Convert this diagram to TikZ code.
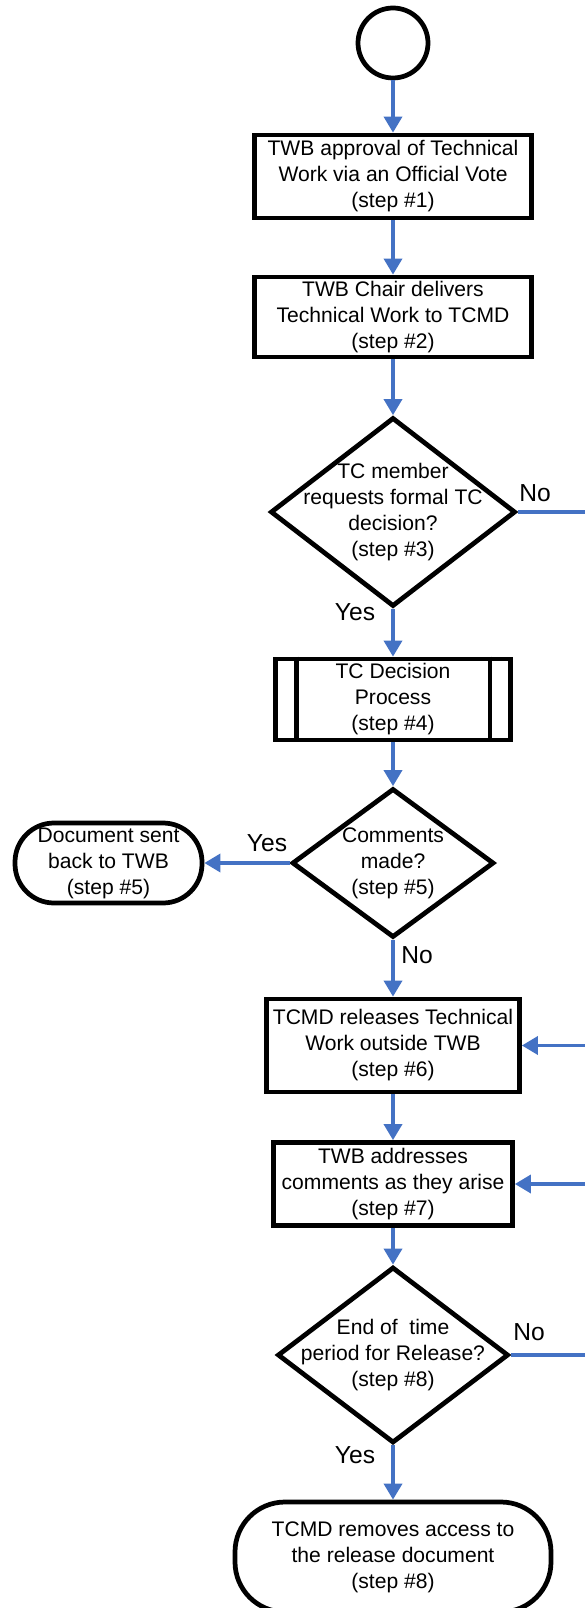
\documentclass[tikz,border=0pt]{standalone}
\usepackage{fontspec}
\setmainfont{Liberation Sans}
\usepackage{xcolor}
\usetikzlibrary{shapes.geometric, arrows.meta}
\definecolor{flowblue}{RGB}{68,114,196}

\begin{document}
\begin{tikzpicture}[
  box/.style={draw, line width=2.7pt, inner sep=0pt, align=center, font=\fontsize{12}{14.8}\selectfont},
  terminal/.style={box, rounded corners=0.78cm},
  decision/.style={diamond, draw, line width=2.7pt, inner sep=0pt},
  txt/.style={align=center, inner sep=0pt, font=\fontsize{12}{14.8}\selectfont},
  flow/.style={-{Triangle[length=0.32cm,width=0.36cm]}, flowblue, line width=2pt},
  lbl/.style={inner sep=0pt, font=\fontsize{14}{16}\selectfont}
]
  \useasboundingbox (0,0) rectangle (11.7,-32.16);
  \coordinate (rim) at (11.9,0); % right edge of the page

  \node[circle, draw, line width=2.7pt, minimum size=1.4cm] (start) at (7.86,-0.86) {};
  \node[box, minimum width=5.54cm, minimum height=1.66cm] (s1) at (7.86,-3.53)
  {TWB approval of Technical\\Work via an Official Vote\\(step \#1)};
  \node[box, minimum width=5.54cm, minimum height=1.6cm] (s2) at (7.86,-6.34)
  {TWB Chair delivers\\Technical Work to TCMD\\(step \#2)};
  \node[decision, minimum width=4.9cm, minimum height=3.78cm] (d1) at (7.86,-10.24) {};
  \node[txt] (d1t) at (d1) {TC member\\requests formal TC\\decision?\\(step \#3)};
  \node[box, minimum width=4.7cm, minimum height=1.62cm] (s4) at (7.86,-13.99)
  {TC Decision\\Process\\(step \#4)};
  \draw[line width=2.7pt] ([xshift=0.46cm]s4.north west) -- ([xshift=0.46cm]s4.south west);
  \draw[line width=2.7pt] ([xshift=-0.46cm]s4.north east) -- ([xshift=-0.46cm]s4.south east);
  \node[decision, minimum width=4.04cm, minimum height=2.98cm] (d2) at (7.86,-17.26) {};
  \node[txt] (d2t) at (d2) {Comments\\made?\\(step \#5)};
  \node[terminal, minimum width=3.74cm, minimum height=1.6cm] (t5) at (2.17,-17.26)
  {Document sent\\back to TWB\\(step \#5)};
  \node[box, minimum width=5.06cm, minimum height=1.86cm] (s6) at (7.86,-20.91)
  {TCMD releases Technical\\Work outside TWB\\(step \#6)};
  \node[box, minimum width=4.78cm, minimum height=1.66cm] (s7) at (7.86,-23.68)
  {TWB addresses\\comments as they arise\\(step \#7)};
  \node[decision, minimum width=4.62cm, minimum height=3.52cm] (d3) at (7.86,-27.1) {};
  \node[txt] (d3t) at (d3) {End of\ \ time\\period for Release?\\(step \#8)};
  \node[terminal, rounded corners=1.0cm, minimum width=6.32cm, minimum height=2.2cm] (t8) at (7.86,-31.14)
  {TCMD removes access to\\the release document\\(step \#8)};

  \draw[flow] (start) -- (s1);
  \draw[flow] (s1) -- (s2);
  \draw[flow] (s2) -- (d1);
  \draw[flow] (d1) -- (s4);
  \draw[flowblue, line width=2pt] (d1.east) -- (d1.east -| rim);
  \draw[flow] (s4) -- (d2);
  \draw[flow] (d2) -- (t5);
  \draw[flow] (d2) -- (s6);
  \draw[flow] (s6.east -| rim) -- (s6.east);
  \draw[flow] (s6) -- (s7);
  \draw[flow] (s7.east -| rim) -- (s7.east);
  \draw[flow] (s7) -- (d3);
  \draw[flowblue, line width=2pt] (d3.east) -- (d3.east -| rim);
  \draw[flow] (d3) -- (t8);

  \node[lbl] (no1) at (10.7,-9.86) {No};
  \node[lbl] (yes1) at (7.1,-12.24) {Yes};
  \node[lbl] (yes2) at (5.34,-16.86) {Yes};
  \node[lbl] (no2) at (8.34,-19.1) {No};
  \node[lbl] (no3) at (10.58,-26.64) {No};
  \node[lbl] (yes3) at (7.1,-29.1) {Yes};
\end{tikzpicture}
\end{document}
